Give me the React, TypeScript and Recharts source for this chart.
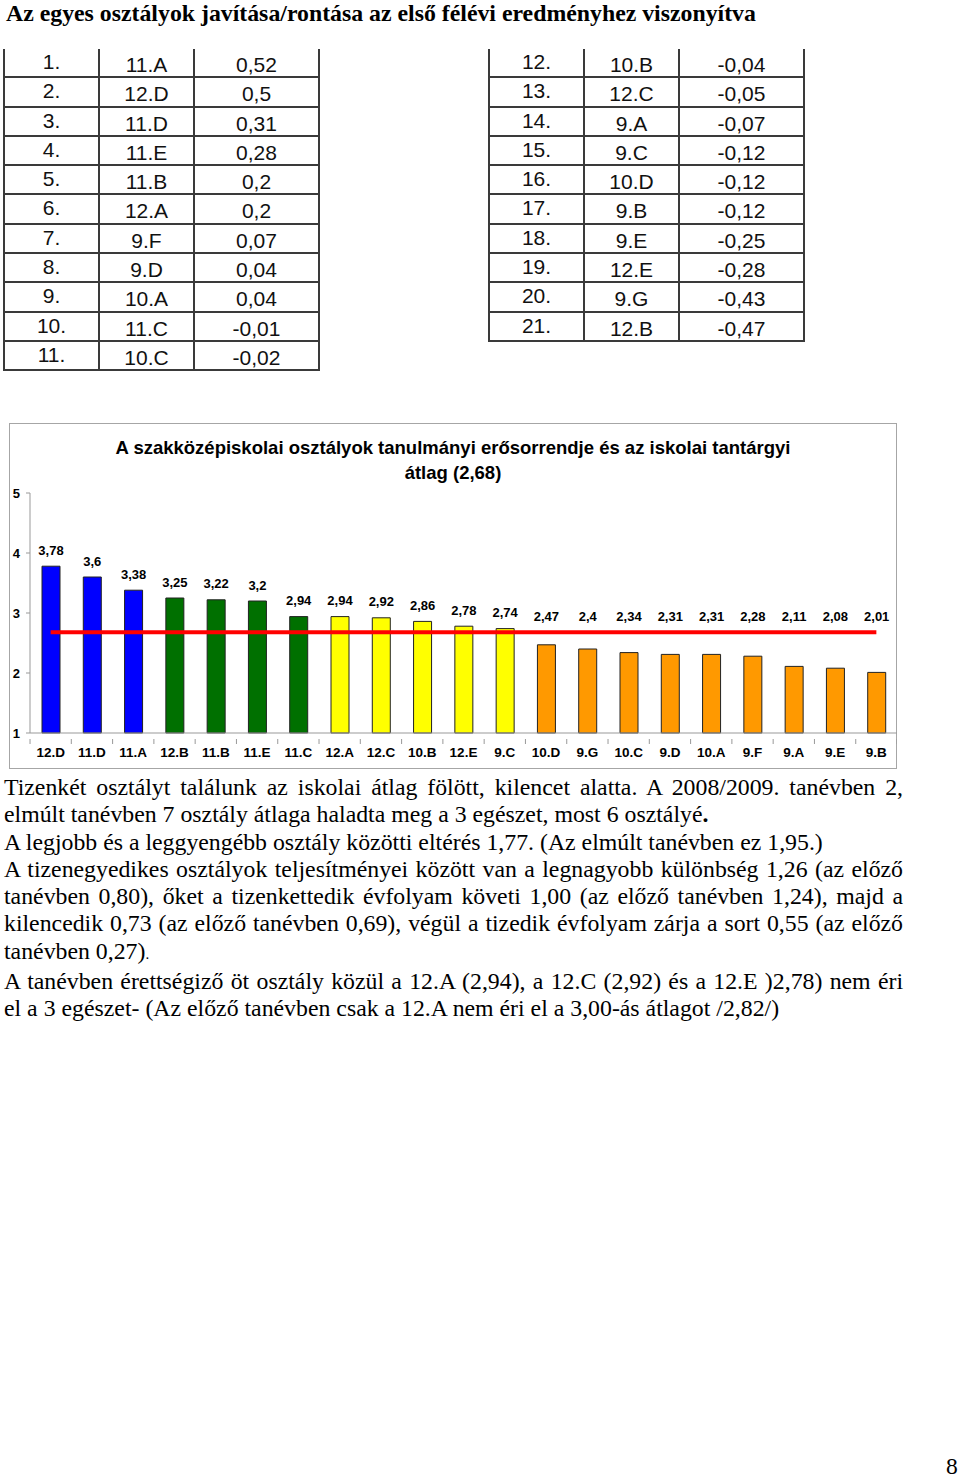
import React from "react";
import { ComposedChart, Bar, Line, XAxis, YAxis, Cell, LabelList } from "recharts";

// --- adatok ---
const osztalyok = ["12.D", "11.D", "11.A", "12.B", "11.B", "11.E", "11.C", "12.A", "12.C", "10.B", "12.E", "9.C", "10.D", "9.G", "10.C", "9.D", "10.A", "9.F", "9.A", "9.E", "9.B"];
const atlagok = [3.78, 3.6, 3.38, 3.25, 3.22, 3.2, 2.94, 2.94, 2.92, 2.86, 2.78, 2.74, 2.47, 2.4, 2.34, 2.31, 2.31, 2.28, 2.11, 2.08, 2.01];
// színcsoport (0 = kék, 1 = zöld, 2 = sárga, 3 = narancs)
const csoportok = [0, 0, 0, 1, 1, 1, 1, 2, 2, 2, 2, 2, 3, 3, 3, 3, 3, 3, 3, 3, 3];
const iskolaiAtlag = 2.68;
const yTicks = [1, 2, 3, 4, 5];

// javítás/rontás táblázat
const tablaOsztalyok = ["11.A", "12.D", "11.D", "11.E", "11.B", "12.A", "9.F", "9.D", "10.A", "11.C", "10.C", "10.B", "12.C", "9.A", "9.C", "10.D", "9.B", "9.E", "12.E", "9.G", "12.B"];
const tablaValtozas = [0.52, 0.5, 0.31, 0.28, 0.2, 0.2, 0.07, 0.04, 0.04, -0.01, -0.02, -0.04, -0.05, -0.07, -0.12, -0.12, -0.12, -0.25, -0.28, -0.43, -0.47];

const szinek = ["#0000ff", "#007000", "#ffff00", "#ff9900"];
const fmt = (v: number) => String(v).replace(".", ",");
const SANS = "Liberation Sans, Arial, sans-serif";
const SERIF = "Liberation Serif, Times New Roman, serif";

const chartData = osztalyok.map((o, i) => ({ osztaly: o, ertek: atlagok[i], atlag: iskolaiAtlag }));

// címke az oszlop fölött, de mindig az átlagvonal fölött marad
const ErtekCimke = (props: any) => {
  const { x, y, width, height, value } = props;
  const ppu = height / (value - 1);
  const atlagY = y + height - (iskolaiAtlag - 1) * ppu;
  const cy = Math.min(y, atlagY) - 16;
  return (
    <text x={x + width / 2} y={cy} textAnchor="middle" dominantBaseline="central"
      fontSize={13} fontWeight="bold" fontFamily={SANS} fill="#000">
      {fmt(value)}
    </text>
  );
};

// x tengely: felirat + Excel-szerű osztásjel a kategóriák között
const XCimke = (props: any) => {
  const { x, y, payload } = props;
  const step = 866 / osztalyok.length;
  return (
    <g>
      <line x1={x - step / 2} x2={x - step / 2} y1={y - 12} y2={y - 7} stroke="#999" />
      {payload.index === osztalyok.length - 1 && (
        <line x1={x + step / 2} x2={x + step / 2} y1={y - 12} y2={y - 7} stroke="#999" />
      )}
      <text x={x} y={y + 1} textAnchor="middle" dominantBaseline="central" fontSize={13.5} fontWeight="bold" fontFamily={SANS} fill="#000">
        {payload.value}
      </text>
    </g>
  );
};

const ROW_H = 29.3;

function Tabla({ left, start, count }: { left: number; start: number; count: number }) {
  const cols = [95, 95, 127];
  const rows = [];
  for (let i = start; i < start + count; i++) {
    const cells = [`${i + 1}.`, tablaOsztalyok[i], fmt(tablaValtozas[i])];
    rows.push(
      <div key={i} style={{ display: "flex", height: ROW_H, borderBottom: "2px solid #3a3a3a", boxSizing: "border-box" }}>
        {cells.map((c, j) => (
          <div key={j} style={{
            width: cols[j], borderLeft: "2px solid #3a3a3a", borderRight: j === 2 ? "2px solid #3a3a3a" : undefined,
            boxSizing: "border-box", textAlign: "center",
            lineHeight: `${j === 0 ? ROW_H - 4 : ROW_H}px`,
            paddingTop: j === 0 ? 0 : 1,
          }}>{c}</div>
        ))}
      </div>
    );
  }
  return (
    <div style={{ position: "absolute", left, top: 49, fontFamily: SANS, fontSize: 21, color: "#111" }}>
      {rows}
    </div>
  );
}

const jus: React.CSSProperties = { textAlign: "justify", textAlignLast: "justify" };

export default function App() {
  return (
    <div style={{ position: "relative", width: 960, height: 1478, background: "#fff", overflow: "hidden" }}>
      <style>{`body{margin:0}`}</style>
      <div style={{ position: "absolute", left: 6, top: 1, fontFamily: SERIF, fontWeight: "bold", fontSize: 23.8, lineHeight: "24px", whiteSpace: "nowrap" }}>
        Az egyes osztályok javítása/rontása az első félévi eredményhez viszonyítva
      </div>

      <Tabla left={3} start={0} count={11} />
      <Tabla left={488} start={11} count={10} />

      <div style={{ position: "absolute", left: 9, top: 423, width: 886, height: 344, border: "1px solid #a6a6a6" }}>
        <div style={{ position: "absolute", left: 0, top: 11, width: 886, textAlign: "center", fontFamily: SANS, fontWeight: "bold", fontSize: 18.5, lineHeight: "25px" }}>
          A szakközépiskolai osztályok tanulmányi erősorrendje és az iskolai tantárgyi<br />átlag (2,68)
        </div>
        <ComposedChart width={887} height={344} data={chartData} margin={{ top: 69, right: 0, bottom: 0, left: 0 }} style={{ position: "absolute", left: 0, top: 0 }}>
          <XAxis dataKey="osztaly" height={35} interval={0} stroke="#999" tickLine={false} tickMargin={12} tick={<XCimke />} />
          <YAxis domain={[1, 5]} ticks={yTicks} width={20} stroke="#999" tickSize={4} tickMargin={6}
            tick={{ fontSize: 13, fontWeight: "bold", fill: "#000", fontFamily: SANS }} />
          <Bar dataKey="ertek" barSize={18} stroke="#222" strokeWidth={1} isAnimationActive={false}>
            {chartData.map((_, i) => <Cell key={i} fill={szinek[csoportok[i]]} />)}
            <LabelList dataKey="ertek" content={ErtekCimke} />
          </Bar>
          <Line dataKey="atlag" type="linear" stroke="#ff0000" strokeWidth={4} dot={false} isAnimationActive={false} />
        </ComposedChart>
      </div>

      <div style={{ position: "absolute", left: 4, top: 774, width: 899, fontFamily: SERIF, fontSize: 23.8, lineHeight: "27.25px", color: "#000", whiteSpace: "nowrap" }}>
        <div style={jus}>Tizenkét osztályt találunk az iskolai átlag fölött, kilencet alatta. A 2008/2009. tanévben 2,</div>
        <div>elmúlt tanévben 7 osztály átlaga haladta meg a 3 egészet, most 6 osztályé<b>.</b></div>
        <div>A legjobb és a leggyengébb osztály közötti eltérés 1,77. (Az elmúlt tanévben ez 1,95.)</div>
        <div style={jus}>A tizenegyedikes osztályok teljesítményei között van a legnagyobb különbség 1,26 (az előző</div>
        <div style={jus}>tanévben 0,80), őket a tizenkettedik évfolyam követi 1,00 (az előző tanévben 1,24), majd a</div>
        <div style={jus}>kilencedik 0,73 (az előző tanévben 0,69), végül a tizedik évfolyam zárja a sort 0,55 (az előző</div>
        <div>tanévben 0,27)<span style={{ fontSize: 15 }}>.</span></div>
        <div style={jus}>A tanévben érettségiző öt osztály közül a 12.A (2,94), a 12.C (2,92) és a 12.E )2,78) nem éri</div>
        <div>el a 3 egészet- (Az előző tanévben csak a 12.A nem éri el a 3,00-ás átlagot /2,82/)</div>
      </div>

      <div style={{ position: "absolute", left: 946, top: 1453, fontFamily: SERIF, fontSize: 23.5 }}>8</div>
    </div>
  );
}
